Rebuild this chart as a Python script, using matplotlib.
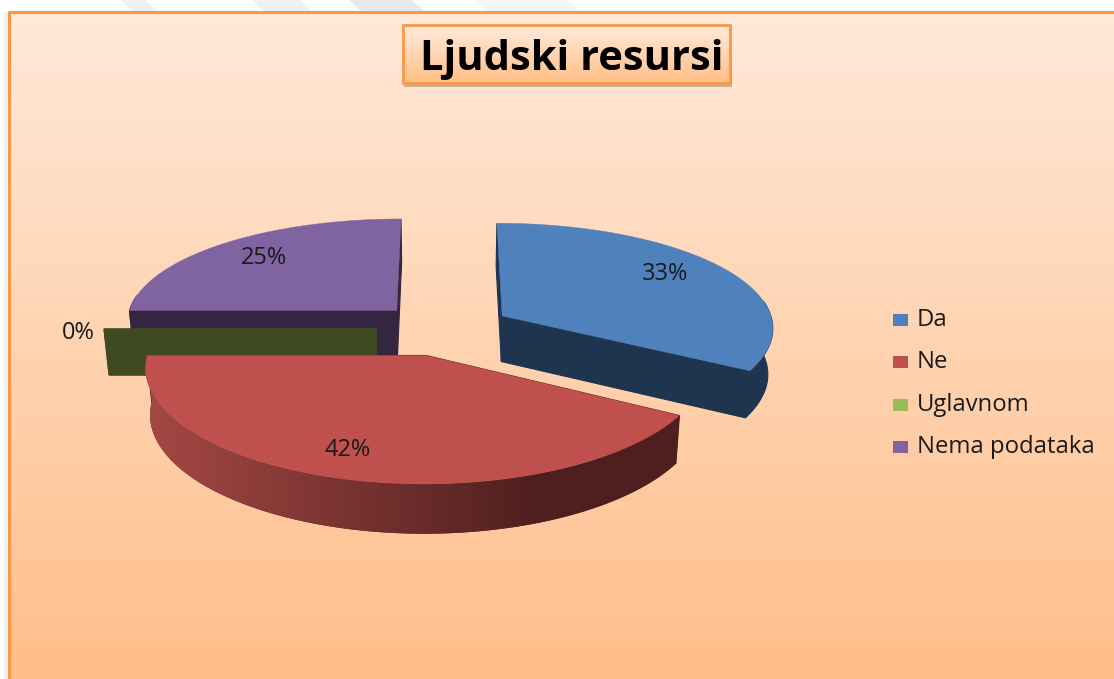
import numpy as np
import matplotlib
matplotlib.use("Agg")
import matplotlib.pyplot as plt
from matplotlib.colors import to_rgb
from matplotlib.patches import Polygon, Rectangle

# raw answers, the percentages come out of these
labels = ["Da", "Ne", "Uglavnom", "Nema podataka"]
values = [4, 5, 0, 3]
top_colors = ["#4F81BD", "#C0504D", "#9BBB59", "#8064A2"]
side_colors = ["#1F344F", "#4E1F1E", "#3F4A20", "#35263F"]
label_pos = [(665, 274), (348, 450), (78, 333), (264, 258)]
legend_y = [320, 362, 405, 447]
title = "Ljudski resursi"

# pie camera, fitted to the picture in pixels
cx, cy = 444, 329
R, H = 272, 106.5
kx, ky = 0.10, 0.118
explode = 0.25
depth = 46
shrink = 0.985


def project(u, v):
    return cx + R * u / (1 - kx * v), cy + H * v / (1 - ky * v)


def project_low(u, v):
    x, y = project(u, v)
    return cx + (x - cx) * shrink, y + depth * (1 / (1 - ky * v)) ** 0.5


def gradient(ax, x0, y0, x1, y1, c_top, c_bottom, zorder):
    a = np.array(to_rgb(c_top))
    b = np.array(to_rgb(c_bottom))
    t = np.linspace(0, 1, 256)[:, None, None]
    img = a[None, None, :] * (1 - t) + b[None, None, :] * t
    return ax.imshow(img, extent=(x0, x1, y1, y0), aspect="auto", zorder=zorder)


plt.rcParams["font.family"] = ["Open Sans", "DejaVu Sans"]
fig = plt.figure(figsize=(11.14, 6.79), dpi=100)
ax = fig.add_axes([0, 0, 1, 1])
ax.axis("off")

# slide background showing above the panel
for x0, x1, c in [(121, 145, "#F0F0F0"), (252, 300, "#F0F0F0"), (349, 412, "#E9E9E9"), (475, 567, "#F6F6F6")]:
    ax.add_patch(Polygon([(x0, 0), (x1, 0), (x1 + 12, 11), (x0 + 12, 11)],
                         fc=c, ec="none", zorder=0))
ax.add_patch(Rectangle((4, 12), 4, 667, fc="#F0F0F0", ec="none", zorder=0))

gradient(ax, 8, 12, 1114, 679, "#FFE9D9", "#FFBE8A", 1)
ax.plot([8.5, 8.5, 1114], [679, 11.5, 11.5], color="#FB9848", lw=2.2, zorder=2)

# title box
ax.add_patch(Rectangle((404, 28), 328, 59, fc="#8A8A8A", ec="none", alpha=0.55, zorder=3))
gradient(ax, 403, 25, 730, 83, "#FFEBDC", "#FFBE86", 4)
ax.add_patch(Rectangle((403, 25), 327, 58, fc="none", ec="#FB9848", lw=2, zorder=5))
ax.text(572, 59, title, fontsize=30, fontweight="bold", color="black",
        ha="center", va="center", zorder=6)

# slices start at 12 o'clock and run clockwise
total = sum(values)
starts = np.cumsum([0] + values[:-1]) / total * 2 * np.pi
sweeps = np.array(values) / total * 2 * np.pi
order = [3, 2, 0, 1]  # back to front
z = 10
for i in order:
    th0, sw = starts[i], sweeps[i]
    mid = th0 + sw / 2
    ox, oy = explode * np.sin(mid), -explode * np.cos(mid)
    th = np.linspace(th0, th0 + sw, 160)
    us = ox + np.sin(th)
    vs = oy - np.cos(th)
    upper = [project(a, b) for a, b in zip(us, vs)]

    # red: cut faces stay under the rim, the others on top of it to close the seam
    faces = []
    for a, b in [(us[0], vs[0]), (us[-1], vs[-1])]:
        faces.append([project(ox, oy), project(a, b), project_low(a, b), project_low(ox, oy)])
    if i == 1:
        for face in faces:
            ax.add_patch(Polygon(face, fc=side_colors[i], ec=side_colors[i], lw=0.8, zorder=z))
        z += 1

    # rim, only on the part of the arc that faces the viewer
    front = -np.cos(th) > -0.15
    if values[i] > 0 and front.any():
        up = [project(a, b) for a, b in zip(us[front], vs[front])]
        low = [project_low(a, b) for a, b in zip(us[front], vs[front])]
        shaded = i == 1
        rim = Polygon(up + low[::-1], fc=side_colors[i],
                      ec="none" if shaded else side_colors[i], lw=0.8, zorder=z)
        ax.add_patch(rim)
        z += 1
        if shaded:
            # only the red rim carries a visible shading, dark from about x=540 on
            xs = np.linspace(145, 690, 400)
            t = np.clip((xs - 145) / (540 - 145), 0, 1)[None, :, None]
            c0 = np.array(to_rgb("#A54844"))[None, None, :]
            c1 = np.array(to_rgb(side_colors[1]))[None, None, :]
            im = ax.imshow(c0 * (1 - t) + c1 * t, extent=(145, 690, 540, 350), aspect="auto", zorder=z)
            im.set_clip_path(rim)
            z += 1

    if i != 1:
        for face in faces:
            ax.add_patch(Polygon(face, fc=side_colors[i], ec=side_colors[i], lw=0.8, zorder=z))
        z += 1

    if values[i] > 0:
        top = [project(ox, oy)] + upper
        ax.add_patch(Polygon(top, fc=top_colors[i], ec=top_colors[i], lw=0.3, zorder=z))
        z += 1

for i, (x, y) in enumerate(label_pos):
    ax.text(x, y, "%d%%" % round(values[i] / total * 100), fontsize=17, color="#1A1A1A",
            ha="center", va="center", zorder=60)

# legend
for name, c, y in zip(labels, top_colors, legend_y):
    ax.add_patch(Rectangle((893, y - 6.5), 15, 12, fc=c, ec="none", zorder=60))
    ax.text(917, y, name, fontsize=17.2, color="#1A1A1A", ha="left", va="center", zorder=60)

ax.set_xlim(0, 1114)
ax.set_ylim(679, 0)
fig.savefig("out.png", dpi=100)
